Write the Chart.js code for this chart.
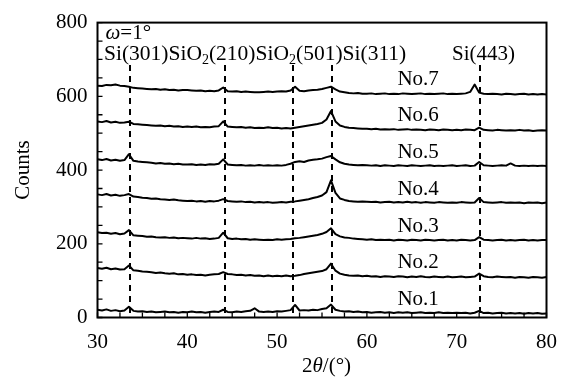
<!DOCTYPE html>
<html>
<head>
<meta charset="utf-8">
<script src="https://cdn.jsdelivr.net/npm/chart.js@4.4.1/dist/chart.umd.min.js"></script>
<style>
  html, body { margin: 0; padding: 0; background: #fff; }
</style>
</head>
<body>
<canvas id="xrd" width="561" height="378"></canvas>
<script>
// 2theta grid (degrees)
const twoTheta = [
  30, 30.5, 31, 31.5, 32, 32.5, 33, 33.5, 34, 34.5,
  35, 35.5, 36, 36.5, 37, 37.5, 38, 38.5, 39, 39.5,
  40, 40.5, 41, 41.5, 42, 42.5, 43, 43.5, 44, 44.5,
  45, 45.5, 46, 46.5, 47, 47.5, 48, 48.5, 49, 49.5,
  50, 50.5, 51, 51.5, 52, 52.5, 53, 53.5, 54, 54.5,
  55, 55.5, 56, 56.5, 57, 57.5, 58, 58.5, 59, 59.5,
  60, 60.5, 61, 61.5, 62, 62.5, 63, 63.5, 64, 64.5,
  65, 65.5, 66, 66.5, 67, 67.5, 68, 68.5, 69, 69.5,
  70, 70.5, 71, 71.5, 72, 72.5, 73, 73.5, 74, 74.5,
  75, 75.5, 76, 76.5, 77, 77.5, 78, 78.5, 79, 79.5,
  80
]

// counts (curves are stacked with an offset)
const no1 = [
  21, 19, 22, 18, 20, 17, 19, 29, 18, 16,
  17, 15, 16, 14, 15, 16, 14, 15, 13, 15,
  14, 16, 14, 15, 13, 15, 16, 15, 21, 15,
  14, 16, 15, 17, 18, 25, 16, 15, 16, 15,
  17, 16, 18, 20, 34, 19, 20, 19, 21, 20,
  23, 25, 35, 21, 18, 16, 17, 15, 16, 14,
  15, 13, 14, 15, 13, 14, 12, 14, 13, 14,
  12, 13, 14, 12, 13, 12, 14, 12, 13, 12,
  13, 12, 13, 11, 13, 18, 12, 13, 11, 12,
  13, 11, 12, 11, 12, 10, 12, 11, 12, 10,
  11
]
const no2 = [
  134, 132, 135, 131, 133, 130, 131, 141, 128, 127,
  125, 124, 123, 121, 122, 120, 119, 120, 117, 118,
  116, 117, 115, 116, 114, 116, 117, 118, 123, 118,
  117, 115, 116, 114, 115, 113, 114, 112, 114, 112,
  113, 112, 114, 112, 113, 115, 118, 120, 122, 124,
  126, 131, 146, 127, 119, 116, 114, 113, 114, 112,
  113, 111, 112, 110, 112, 111, 110, 112, 111, 109,
  111, 110, 112, 110, 109, 111, 110, 109, 111, 109,
  110, 111, 109, 110, 111, 119, 112, 110, 109, 111,
  110, 109, 110, 108, 110, 109, 108, 110, 109, 108,
  110
]
const no3 = [
  231, 229, 230, 227, 229, 226, 228, 237, 223, 222,
  221, 219, 220, 218, 217, 218, 216, 217, 215, 216,
  215, 214, 216, 214, 215, 213, 214, 216, 230, 215,
  213, 214, 212, 213, 211, 212, 211, 210, 211, 210,
  212, 211, 212, 213, 215, 216, 218, 220, 222, 224,
  227, 232, 242, 226, 220, 217, 216, 214, 213, 212,
  211, 212, 210, 211, 210, 211, 209, 211, 210, 209,
  211, 210, 209, 211, 210, 209, 210, 211, 209, 210,
  209, 211, 210, 209, 210, 218, 211, 210, 209, 210,
  211, 209, 210, 209, 210, 211, 209, 210, 209, 210,
  210
]
const no4 = [
  334, 332, 335, 331, 333, 330, 332, 335, 328, 327,
  325, 324, 322, 323, 321, 320, 319, 320, 318, 317,
  316, 317, 315, 316, 314, 316, 315, 317, 321, 316,
  315, 314, 315, 313, 314, 312, 313, 312, 313, 311,
  312, 313, 312, 314, 315, 317, 319, 321, 324, 327,
  331, 340, 372, 338, 323, 319, 316, 315, 314, 315,
  314, 313, 314, 312, 313, 314, 312, 313, 312, 314,
  312, 313, 311, 313, 312, 311, 313, 312, 311, 312,
  311, 313, 312, 311, 312, 324, 313, 312, 311, 312,
  313, 311, 312, 311, 312, 310, 312, 311, 312, 310,
  312
]
const no5 = [
  429, 427, 430, 426, 428, 425, 427, 443, 425, 423,
  422, 421, 420, 418, 419, 417, 418, 416, 417, 415,
  415, 416, 414, 415, 414, 416, 415, 417, 429, 415,
  414, 413, 414, 412, 413, 412, 414, 412, 413, 412,
  413, 412, 414, 417, 422, 424, 422, 426, 428, 429,
  431, 435, 438, 429, 421, 417, 415, 414, 413, 414,
  413, 412, 413, 411, 413, 412, 411, 413, 412, 411,
  413, 412, 411, 412, 413, 411, 412, 411, 412, 413,
  411, 412, 413, 411, 412, 422, 413, 412, 411, 412,
  413, 412, 418, 412, 411, 412, 411, 412, 411, 412,
  411
]
const no6 = [
  532, 530, 533, 529, 531, 528, 529, 531, 525, 524,
  523, 522, 521, 520, 521, 519, 520, 518, 519, 517,
  518, 517, 518, 516, 517, 516, 518, 519, 532, 518,
  517, 516, 517, 515, 516, 514, 515, 514, 516, 514,
  515, 513, 514, 513, 515, 517, 519, 521, 523, 525,
  528, 537, 560, 532, 521, 517, 515, 514, 513, 512,
  512, 511, 512, 510, 511, 510, 511, 509, 510, 511,
  509, 510, 509, 508, 510, 509, 508, 510, 509, 508,
  509, 508, 510, 509, 508, 515, 509, 508, 507, 509,
  508, 507, 508, 507, 509, 507, 508, 506, 507, 508,
  507
]
const no7 = [
  629, 628, 631, 630, 632, 629, 628, 626, 623, 622,
  621, 620, 619, 620, 618, 619, 617, 618, 616, 617,
  617, 616, 615, 616, 614, 615, 614, 616, 624, 614,
  613, 614, 612, 613, 612, 611, 611, 612, 613, 612,
  613, 614, 613, 616, 626, 615, 614, 616, 617, 618,
  620, 623, 626, 619, 613, 611, 609, 608, 609, 607,
  607, 608, 606, 607, 608, 606, 607, 606, 608, 607,
  606, 607, 608, 606, 607, 606, 607, 608, 606, 607,
  606, 607, 608, 612, 632, 610, 607, 606, 607, 606,
  605, 607, 606, 605, 606, 607, 605, 606, 605, 606,
  605
]

const sampleNames = ['No.1', 'No.2', 'No.3', 'No.4', 'No.5', 'No.6', 'No.7']
const sampleSeries = [no1, no2, no3, no4, no5, no6, no7]
const sampleLabelY = [34, 133, 233, 333, 432, 532, 632]
const sampleLabelX = 65.7

// reference peak positions (dashed lines)
const peakNames = ['Si(301)', 'SiO2(210)', 'SiO2(501)', 'Si(311)', 'Si(443)']
const peakPos = [33.6, 44.2, 51.8, 56.1, 72.6]
const dashTop = 685

const serif = "'Liberation Serif', 'Times New Roman', serif"

// draws text like "SiO2(210)" with the 2 as a subscript
function drawChem (ctx, text, x, y) {
  const m = text.match(/^(.*O)2(.*)$/)
  if (!m) {
    ctx.fillText(text, x, y)
    return ctx.measureText(text).width
  }
  ctx.fillText(m[1], x, y)
  let w = ctx.measureText(m[1]).width
  const font = ctx.font
  ctx.font = '14px ' + serif
  ctx.fillText('2', x + w, y + 4)
  w += ctx.measureText('2').width
  ctx.font = font
  ctx.fillText(m[2], x + w, y)
  return w + ctx.measureText(m[2]).width
}

const decorations = {
  id: 'decorations',
  beforeDatasetsDraw (chart) {
    const { ctx, scales: { x, y } } = chart
    ctx.save()
    ctx.strokeStyle = '#000'
    ctx.lineWidth = 2
    ctx.setLineDash([6, 5])
    peakPos.forEach(p => {
      const px = Math.round(x.getPixelForValue(p))
      ctx.beginPath()
      ctx.moveTo(px, y.getPixelForValue(dashTop))
      ctx.lineTo(px, y.getPixelForValue(0))
      ctx.stroke()
    })
    ctx.restore()
  },
  afterDatasetsDraw (chart) {
    const { ctx, chartArea: a, scales: { x, y } } = chart
    ctx.save()
    ctx.strokeStyle = '#000'
    ctx.lineWidth = 2
    ctx.strokeRect(a.left, a.top, a.right - a.left, a.bottom - a.top)

    // inward ticks
    ctx.lineWidth = 1.3
    ctx.beginPath()
    x.ticks.forEach(t => {
      const px = x.getPixelForValue(t.value)
      ctx.moveTo(px, a.bottom)
      ctx.lineTo(px, a.bottom - 5)
    })
    y.ticks.forEach(t => {
      const py = y.getPixelForValue(t.value)
      ctx.moveTo(a.left, py)
      ctx.lineTo(a.left + 5, py)
    })
    ctx.stroke()

    ctx.fillStyle = '#000'
    ctx.font = '21px ' + serif
    ctx.textBaseline = 'alphabetic'

    // sample labels
    ctx.textAlign = 'center'
    sampleNames.forEach((n, i) => {
      ctx.fillText(n, x.getPixelForValue(sampleLabelX), y.getPixelForValue(sampleLabelY[i]))
    })

    // omega note
    ctx.textAlign = 'left'
    ctx.font = 'italic 21px ' + serif
    ctx.fillText('\u03c9', a.left + 8, a.top + 16)
    const ow = ctx.measureText('\u03c9').width
    ctx.font = '21px ' + serif
    ctx.fillText('=1\u00b0', a.left + 8 + ow, a.top + 16)

    // peak names
    ctx.font = '21.5px ' + serif
    let cx = a.left + 6.5
    peakNames.slice(0, 4).forEach(n => { cx += drawChem(ctx, n, cx, a.top + 37) })
    ctx.font = '21px ' + serif
    drawChem(ctx, peakNames[4], x.getPixelForValue(peakPos[4]) - 28, a.top + 37)

    // axis titles
    ctx.save()
    ctx.translate(22, (a.top + a.bottom) / 2)
    ctx.rotate(-Math.PI / 2)
    ctx.textAlign = 'center'
    ctx.fillText('Counts', 0, 7)
    ctx.restore()

    const parts = [['2', ''], ['\u03b8', 'italic '], ['/(\u00b0)', '']]
    let tw = 0
    parts.forEach(p => { ctx.font = p[1] + '21px ' + serif; tw += ctx.measureText(p[0]).width })
    let tx = (a.left + a.right) / 2 + 4.5 - tw / 2
    parts.forEach(p => {
      ctx.font = p[1] + '21px ' + serif
      ctx.fillText(p[0], tx, a.bottom + 54.5)
      tx += ctx.measureText(p[0]).width
    })
    ctx.restore()
  }
}

new Chart(document.getElementById('xrd'), {
  type: 'line',
  data: {
    datasets: sampleSeries.map((s, i) => ({
      label: sampleNames[i],
      data: twoTheta.map((t, j) => ({ x: t, y: s[j] })),
      borderColor: '#000',
      borderWidth: 2,
      borderJoinStyle: 'round',
      pointRadius: 0,
      tension: 0
    }))
  },
  options: {
    responsive: false,
    animation: false,
    devicePixelRatio: 1,
    layout: { padding: { top: 20.7, right: 14.5, left: 0, bottom: 0 } },
    plugins: {
      legend: { display: false },
      tooltip: { enabled: false }
    },
    scales: {
      x: {
        type: 'linear',
        min: 30,
        max: 80,
        grid: { display: false, drawTicks: false },
        border: { display: false },
        ticks: {
          stepSize: 2.5,
          autoSkip: false,
          maxRotation: 0,
          padding: 12,
          color: '#000',
          font: { family: serif, size: 21 },
          callback: v => (v % 10 === 0 ? v : '')
        },
        afterFit: s => { s.height = 60.5; s.paddingLeft = 0; s.paddingRight = 0 }
      },
      y: {
        min: 0,
        max: 800,
        grid: { display: false, drawTicks: false },
        border: { display: false },
        ticks: {
          stepSize: 50,
          autoSkip: false,
          padding: 10,
          color: '#000',
          font: { family: serif, size: 21 },
          callback: v => (v % 200 === 0 ? v : '')
        },
        afterFit: s => { s.width = 97.5 }
      }
    }
  },
  plugins: [decorations]
})
</script>
</body>
</html>
